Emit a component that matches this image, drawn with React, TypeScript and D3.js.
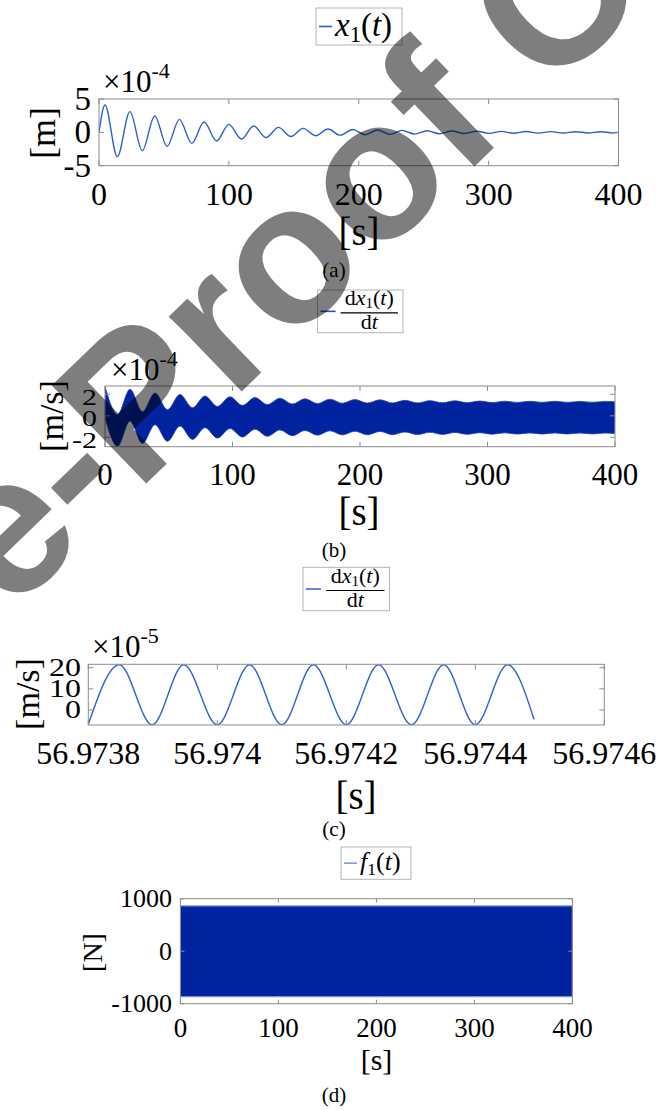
import React, { useEffect, useRef } from 'react';
import * as d3 from 'd3';

// (a) x1(t): turning points, values in 1e-4 m
const dispTime = [0, 4.6, 14.1, 23.8, 33.3, 42.9, 52.4, 61.9, 71.4, 80.9, 90.5, 100.0, 109.6, 119.1, 128.6, 138.2, 147.7, 157.2, 166.8, 176.3, 185.8, 195.4, 204.9, 214.4, 224.0, 233.5, 243.0, 252.6, 262.1, 271.6, 281.2, 290.7, 300.2, 309.8, 319.3, 328.8, 338.4, 347.9, 357.4, 367.0, 376.5, 386.0, 395.6, 400];
const dispValue = [0, 4.1, -3.65, 3.1, -2.75, 2.45, -2.1, 1.95, -1.65, 1.55, -1.3, 1.2, -1.0, 0.95, -0.78, 0.74, -0.62, 0.6, -0.5, 0.5, -0.42, 0.42, -0.36, 0.35, -0.3, 0.29, -0.26, 0.24, -0.21, 0.2, -0.18, 0.17, -0.15, 0.14, -0.13, 0.12, -0.11, 0.11, -0.1, 0.1, -0.09, 0.09, -0.08, 0.0];

// (b) dx1/dt over 0..400 s: centre of the dense band (1e-4 m/s) and its half width
const velCentreTime = [0, 9.8, 19.6, 29.4, 39.2, 49.0, 58.8, 68.6, 78.4, 88.2, 98.0, 107.8, 117.6, 127.4, 137.2, 147.0, 156.8, 166.6, 176.4, 186.2, 196.0, 205.8, 215.6, 225.4, 235.2, 245.0, 254.8, 264.6, 274.4, 284.2, 294.0, 303.8, 313.6, 323.4, 333.2, 343.0, 352.8, 362.6, 372.4, 382.2, 392.0, 400];
const velCentreValue = [1.28, -1.35, 0.99, -1.09, 0.64, -0.9, 0.52, -0.72, 0.37, -0.6, 0.29, -0.5, 0.22, -0.43, 0.16, -0.38, 0.11, -0.33, 0.08, -0.3, 0.04, -0.29, 0.02, -0.28, -0.03, -0.27, -0.06, -0.26, -0.08, -0.25, -0.1, -0.24, -0.11, -0.23, -0.12, -0.22, -0.12, -0.22, -0.13, -0.21, -0.13, -0.17];
const velHalfWidth = 1.47;

// (c) dx1/dt zoomed in, turning points (1e-5 m/s)
const zoomTime = [56.9738, 56.973848, 56.973899, 56.973948, 56.974, 56.97405, 56.9741, 56.974149, 56.9742, 56.97425, 56.974301, 56.974351, 56.9744, 56.97445, 56.974491];
const zoomValue = [-6.8, 21.4, -7.0, 21.4, -7.0, 21.4, -7.0, 21.4, -7.0, 21.4, -7.0, 21.4, -7.0, 21.4, -4.4];

// (d) f1(t): envelope of the dense band (N)
const forceTime = [0, 400];
const forceMax = [862, 862];
const forceMin = [-866, -866];

const timeTicks = [0, 100, 200, 300, 400];
const dispTicks = [-5, 0, 5];
const velTicks = [-2, 0, 2];
const zoomTimeTicks = [56.9738, 56.974, 56.9742, 56.9744, 56.9746];
const zoomTimeLabels = ['56.9738', '56.974', '56.9742', '56.9744', '56.9746'];
const zoomVelTicks = [0, 10, 20];
const forceTicks = [-1000, 0, 1000];

const SERIF = 'Liberation Serif';
const BOX = '#8c8c8c';
const LINE = '#2b5fd0';
const BAND = '#0223a0';

function addText(g, x, y, str, size, opt: any = {}) {
  let tr = `translate(${x},${y})`;
  if (opt.rotate) tr += ` rotate(${opt.rotate})`;
  if (opt.sy) tr += ` scale(1,${opt.sy})`;
  const t = g
    .append('text')
    .attr('transform', tr)
    .style('font-family', SERIF)
    .attr('font-size', size)
    .attr('text-anchor', opt.anchor || 'middle')
    .attr('fill', '#000');
  if (opt.central) t.attr('dominant-baseline', 'central');
  t.text(str);
  return t;
}

function panel(svg, o) {
  const x = d3.scaleLinear().domain(o.xDomain).range([o.left, o.right]);
  const y = d3.scaleLinear().domain(o.yDomain).range([o.bottom, o.top]);
  const g = svg.append('g');
  g.append('clipPath')
    .attr('id', 'clip-' + o.id)
    .append('rect')
    .attr('x', o.left)
    .attr('y', o.top)
    .attr('width', o.right - o.left)
    .attr('height', o.bottom - o.top);
  const plot = g.append('g').attr('clip-path', `url(#clip-${o.id})`);
  o.draw(plot, x, y);
  g.append('rect')
    .attr('x', o.left)
    .attr('y', o.top)
    .attr('width', o.right - o.left)
    .attr('height', o.bottom - o.top)
    .attr('fill', 'none')
    .attr('stroke', BOX)
    .attr('stroke-width', 1);
  const len = o.tickLen || 5;
  o.xTicks.forEach((v) => {
    g.append('line').attr('x1', x(v)).attr('x2', x(v)).attr('y1', o.top).attr('y2', o.top + len).attr('stroke', BOX);
    g.append('line').attr('x1', x(v)).attr('x2', x(v)).attr('y1', o.bottom).attr('y2', o.bottom - len).attr('stroke', BOX);
  });
  o.yTicks.forEach((v) => {
    g.append('line').attr('x1', o.left).attr('x2', o.left + len).attr('y1', y(v)).attr('y2', y(v)).attr('stroke', BOX);
    g.append('line').attr('x1', o.right).attr('x2', o.right - len).attr('y1', y(v)).attr('y2', y(v)).attr('stroke', BOX);
  });
  o.xTicks.forEach((v, i) => {
    const s = o.xLabels ? o.xLabels[i] : String(v);
    addText(g, x(v), o.xLabelY, s, o.xLabelSize);
  });
  o.yTicks.forEach((v) => {
    addText(g, o.yLabelX, y(v) + (o.yLabelDy || 0), String(v), o.yLabelSize, {
      anchor: 'end',
      central: true,
      sy: o.yLabelSy,
    });
  });
  return { x, y, g };
}

function multiplier(svg, x, y, exp) {
  const t = svg
    .append('text')
    .attr('x', x)
    .attr('y', y)
    .style('font-family', SERIF)
    .attr('font-size', 31);
  t.append('tspan').text('×10');
  t.append('tspan').attr('font-size', 22).attr('dy', -14).text(exp);
}

function legendSimple(svg, box, color, name) {
  const g = svg.append('g');
  g.append('rect')
    .attr('x', box[0])
    .attr('y', box[1])
    .attr('width', box[2])
    .attr('height', box[3])
    .attr('fill', '#fff')
    .attr('stroke', '#b4b4b4');
  const my = box[1] + box[3] / 2;
  g.append('line')
    .attr('x1', box[0] + 3)
    .attr('x2', box[0] + 16)
    .attr('y1', my)
    .attr('y2', my)
    .attr('stroke', color)
    .attr('stroke-width', 1.6);
  const t = g
    .append('text')
    .attr('x', box[0] + 19)
    .attr('y', box[1] + box[3] - 9)
    .style('font-family', SERIF)
    .attr('font-size', box[4]);
  t.append('tspan').attr('font-style', 'italic').text(name);
  t.append('tspan').attr('font-size', box[4] * 0.68).attr('dy', box[4] * 0.18).text('1');
  t.append('tspan').attr('dy', -box[4] * 0.18).text('(');
  t.append('tspan').attr('font-style', 'italic').text('t');
  t.append('tspan').text(')');
}

function legendFraction(svg, box, color) {
  const g = svg.append('g');
  g.append('rect')
    .attr('x', box[0])
    .attr('y', box[1])
    .attr('width', box[2])
    .attr('height', box[3])
    .attr('fill', '#fff')
    .attr('stroke', '#b4b4b4');
  const my = box[1] + box[3] / 2;
  g.append('line')
    .attr('x1', box[0] + 3)
    .attr('x2', box[0] + 18)
    .attr('y1', my)
    .attr('y2', my)
    .attr('stroke', color)
    .attr('stroke-width', 1.6);
  const cx = box[0] + 22 + (box[2] - 26) / 2;
  const num = g
    .append('text')
    .attr('x', cx)
    .attr('y', my - 6)
    .attr('text-anchor', 'middle')
    .style('font-family', SERIF)
    .attr('font-size', 22);
  num.append('tspan').text('d');
  num.append('tspan').attr('font-style', 'italic').text('x');
  num.append('tspan').attr('font-size', 15).attr('dy', 3).text('1');
  num.append('tspan').attr('dy', -3).text('(');
  num.append('tspan').attr('font-style', 'italic').text('t');
  num.append('tspan').text(')');
  g.append('line')
    .attr('x1', box[0] + 23)
    .attr('x2', box[0] + box[2] - 5)
    .attr('y1', my + 1.5)
    .attr('y2', my + 1.5)
    .attr('stroke', '#000')
    .attr('stroke-width', 1.2);
  const den = g
    .append('text')
    .attr('x', cx)
    .attr('y', my + 18)
    .attr('text-anchor', 'middle')
    .style('font-family', SERIF)
    .attr('font-size', 22);
  den.append('tspan').text('d');
  den.append('tspan').attr('font-style', 'italic').text('t');
}

export default function App() {
  const ref = useRef<SVGSVGElement>(null);

  useEffect(() => {
    draw();
  }, []);

  function draw() {
    const svg = d3.select(ref.current);
    svg.selectAll('*').remove();
    svg.append('rect').attr('width', 658).attr('height', 1110).attr('fill', '#fff');

    // (a) displacement
    const dispPts = dispTime.map((t, i) => [t, dispValue[i]]);
    panel(svg, {
      id: 'a',
      left: 99,
      right: 618.5,
      top: 99,
      bottom: 165.7,
      xDomain: [0, 400],
      yDomain: [-5, 5],
      xTicks: timeTicks,
      yTicks: dispTicks,
      xLabelY: 205,
      xLabelSize: 32,
      yLabelX: 91,
      yLabelSize: 33,
      draw: (p, x, y) => {
        const line = d3
          .line()
          .x((d) => x(d[0]))
          .y((d) => y(d[1]))
          .curve(d3.curveMonotoneX);
        p.append('path').attr('d', line(dispPts)).attr('fill', 'none').attr('stroke', LINE).attr('stroke-width', 1.4);
      },
    });
    multiplier(svg, 103, 92, '-4');
    addText(svg, 43, 133, '[m]', 36, { rotate: -90, central: true });
    addText(svg, 359, 245, '[s]', 39);
    addText(svg, 334, 277, '(a)', 21);
    legendSimple(svg, [316, 8, 86, 37, 33], LINE, 'x');

    // (b) velocity, whole run
    const velPts = velCentreTime.map((t, i) => [t, velCentreValue[i]]);
    panel(svg, {
      id: 'b',
      left: 105,
      right: 615,
      top: 386,
      bottom: 446.7,
      xDomain: [0, 400],
      yDomain: [-2.87, 2.77],
      xTicks: timeTicks,
      yTicks: velTicks,
      xLabelY: 485,
      xLabelSize: 31,
      yLabelX: 97,
      yLabelSize: 30,
      yLabelSy: 0.75,
      yLabelDy: 3,
      draw: (p, x, y) => {
        const area = d3
          .area()
          .x((d) => x(d[0]))
          .y0((d) => y(d[1] - velHalfWidth))
          .y1((d) => y(d[1] + velHalfWidth))
          .curve(d3.curveMonotoneX);
        p.append('path').attr('d', area(velPts)).attr('fill', BAND).attr('stroke', '#1c3fc0').attr('stroke-width', 0.8);
      },
    });
    multiplier(svg, 111, 380, '-4');
    addText(svg, 51.5, 416, '[m/s]', 34, { rotate: -90, central: true });
    addText(svg, 359, 525, '[s]', 39);
    addText(svg, 334, 557, '(b)', 21);
    legendFraction(svg, [317.6, 290, 85.4, 42.7], '#1f4fcf');

    // (c) velocity, zoomed window
    const zoomPts = zoomTime.map((t, i) => [t, zoomValue[i]]);
    panel(svg, {
      id: 'c',
      left: 88.3,
      right: 604.3,
      top: 664.3,
      bottom: 725,
      xDomain: [56.9738, 56.9746],
      yDomain: [-7.1, 21.6],
      xTicks: zoomTimeTicks,
      xLabels: zoomTimeLabels,
      yTicks: zoomVelTicks,
      xLabelY: 764,
      xLabelSize: 32,
      yLabelX: 81,
      yLabelSize: 32,
      yLabelSy: 0.76,
      draw: (p, x, y) => {
        const line = d3
          .line()
          .x((d) => x(d[0]))
          .y((d) => y(d[1]))
          .curve(d3.curveMonotoneX);
        p.append('path').attr('d', line(zoomPts)).attr('fill', 'none').attr('stroke', '#2e63d2').attr('stroke-width', 1.4);
      },
    });
    multiplier(svg, 92, 657, '-5');
    addText(svg, 27.5, 694, '[m/s]', 34, { rotate: -90, central: true });
    addText(svg, 356, 809, '[s]', 39);
    addText(svg, 334, 836, '(c)', 21);
    legendFraction(svg, [303, 567.3, 86.5, 43.4], '#3a6bd6');

    // (d) force
    const forcePts = forceTime.map((t, i) => [t, forceMin[i], forceMax[i]]);
    panel(svg, {
      id: 'd',
      left: 180.4,
      right: 572.4,
      top: 898.7,
      bottom: 1003.7,
      xDomain: [0, 400],
      yDomain: [-1000, 1000],
      xTicks: timeTicks,
      yTicks: forceTicks,
      tickLen: 4,
      xLabelY: 1036.7,
      xLabelSize: 27,
      yLabelX: 172,
      yLabelSize: 26,
      draw: (p, x, y) => {
        const area = d3
          .area()
          .x((d) => x(d[0]))
          .y0((d) => y(d[1]))
          .y1((d) => y(d[2]));
        p.append('path').attr('d', area(forcePts)).attr('fill', BAND).attr('stroke', '#7393e2').attr('stroke-width', 1.2);
      },
    });
    addText(svg, 92.3, 952.5, '[N]', 28, { rotate: -90, central: true });
    addText(svg, 376.5, 1070, '[s]', 30);
    addText(svg, 334, 1102, '(d)', 21);
    legendSimple(svg, [341, 847, 70, 32.3, 26], '#7a9be6', 'f');

    // watermark
    const wm = svg.append('g').attr('transform', 'translate(10,615) rotate(-44)').attr('opacity', 0.5);
    wm.append('text')
      .style('font-family', 'Liberation Sans')
      .attr('font-weight', 'bold')
      .attr('font-size', 198)
      .attr('text-anchor', 'end')
      .text('Journal Pr');
    wm.append('text')
      .style('font-family', 'Liberation Sans')
      .attr('font-weight', 'bold')
      .attr('font-size', 198)
      .text('e-Proof Copy');
  }

  return <svg ref={ref} width={658} height={1110} style={{ position: 'absolute', left: 0, top: 0 }} />;
}
